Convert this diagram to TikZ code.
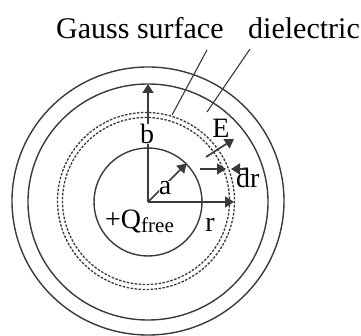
\documentclass[tikz,border=0pt]{standalone}
\usepackage{fontspec}
\setmainfont{Liberation Serif}
\usetikzlibrary{arrows.meta}
\definecolor{ln}{HTML}{3a3a3a}
\tikzset{
  ring/.style={draw=ln, line width=1.4pt},
  dring/.style={draw=ln, line width=1.3pt, dash pattern=on 2.5pt off 1.5pt},
  arr/.style={draw=ln, line width=1.7pt, -{Triangle[length=9pt,width=11pt]}},
  lead/.style={draw=ln, line width=1.1pt},
  ttl/.style={font=\fontsize{30}{30}\selectfont, inner sep=0pt, anchor=base west},
  lbl/.style={font=\fontsize{28}{28}\selectfont, inner sep=0.5pt},
}
\begin{document}
\begin{tikzpicture}[x=1pt,y=-1pt]
\useasboundingbox (0,0) rectangle (361,336);
% rings
\draw[ring] (148,201) ellipse [x radius=136, y radius=134];
\draw[ring] (148,202) ellipse [x radius=120, y radius=118];
\draw[dring] (146,201) circle [radius=88.5];
\draw[dring] (146,201) circle [radius=83.5];
\draw[ring] (148,202) circle [radius=54];
% coordinates
\coordinate (O) at (148,202);
\coordinate (btip) at (148,84);
\coordinate (rtip) at (234,202);
\coordinate (atip) at (186.5,163.5);
\coordinate (Et) at (206,157);
\coordinate (Eh) at (234,139);
\coordinate (d1t) at (200,169);
\coordinate (d1h) at (226,169);
\coordinate (d2t) at (247,169);
\coordinate (d2h) at (231,169);
\coordinate (g1) at (207,50);
\coordinate (g2) at (172,115);
\coordinate (e1) at (250,49);
\coordinate (e2) at (207,112);
% arrows
\draw[arr] (O) -- (btip);
\draw[arr] (O) -- (rtip);
\draw[arr] (O) -- (atip);
\draw[arr] (Et) -- (Eh);
\draw[arr] (d1t) -- (d1h);
\draw[arr] (d2t) -- (d2h);
% leaders
\draw[lead] (g1) -- (g2);
\draw[lead] (e1) -- (e2);
% labels
\node[lbl, fill=white, inner sep=0pt] (b) at (147,134) {b};
\node[lbl, fill=white, inner sep=0pt] (a) at (165,188) {a};
\node[lbl, anchor=base] (r) at (210,232) {r};
\node[lbl, anchor=base] (E) at (221,138) {E};
\node[lbl, anchor=base west, inner sep=0pt] (dr) at (236,188) {dr};
\node[lbl, anchor=base west, inner sep=0pt] (Q) at (105,229) {+Q\raisebox{-4pt}{\fontsize{21}{21}\selectfont free}};
\node[ttl] (gs) at (56,39) {Gauss surface};
\node[ttl] (di) at (248,39) {dielectric};
\end{tikzpicture}
\end{document}
